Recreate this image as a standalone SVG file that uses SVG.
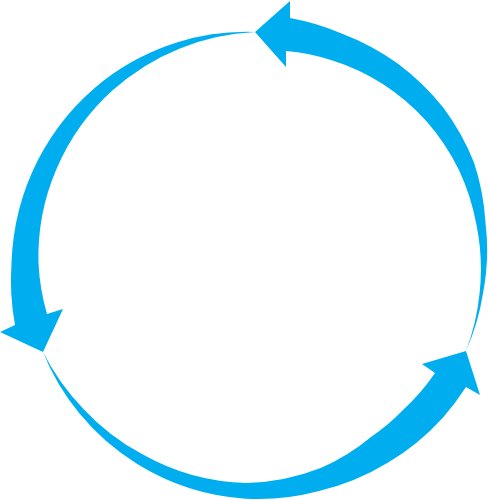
<svg xmlns="http://www.w3.org/2000/svg" width="488" height="500" viewBox="0 0 488 500">
<style>
.arrow{fill:#00AEEF;stroke:none}
</style>
<rect width="488" height="500" fill="#ffffff"/>
<g id="cycle">
<g id="arrow-top">
<path class="arrow" d="M255,32 L290,1 L290,18 A245.7,245.7 0 0 1 341.6,33.4 A243.9,243.9 0 0 1 397.7,63.5 A242.6,242.6 0 0 1 443.2,107.6 A240,240 0 0 1 473.9,162.3 A234.6,234.6 0 0 1 485.5,222.9 A229,229 0 0 1 482.8,294.6 A226.2,226.2 0 0 1 466,351 A224.6,224.6 0 0 0 479.5,294.1 A222.7,222.7 0 0 0 476.4,224.5 A221.6,221.6 0 0 0 458.7,169.4 A220.8,220.8 0 0 0 426.7,121.4 A219.3,219.3 0 0 0 383.2,84.2 A217,217 0 0 0 331.8,60.2 A214.8,214.8 0 0 0 286,51 L286,67 Z"/>
</g>
<g id="arrow-left">
<path class="arrow" d="M43,352 L0,332 L15,325 A248.6,248.6 0 0 1 11.5,263 A244.7,244.7 0 0 1 37.8,160.3 A241,241 0 0 1 104.4,79.9 A237,237 0 0 1 177.6,42.2 A233,233 0 0 1 255,32 A229.7,229.7 0 0 0 179.9,48.4 A227,227 0 0 0 112.9,90.1 A224,224 0 0 0 56.5,169.1 A221,221 0 0 0 38.5,263 A218.3,218.3 0 0 0 47,314 L63,309 Z"/>
</g>
<g id="arrow-bottom">
<path class="arrow" d="M466,351 L480,395 L466,387 A241.6,241.6 0 0 1 442.6,417.9 A239.6,239.6 0 0 1 387.7,462.8 A237,237 0 0 1 319.1,491 A236,236 0 0 1 245.7,498.7 A235,235 0 0 1 137.2,464 A234,234 0 0 1 79.1,413.1 A233,233 0 0 1 43,352 A230,230 0 0 0 83.7,409.2 A225.5,225.5 0 0 0 142.9,454.6 A222,222 0 0 0 246.5,483.1 A217.5,217.5 0 0 0 320.7,468.1 A211,211 0 0 0 371,437 A207,207 0 0 0 404,409 A207.5,207.5 0 0 0 435,373 L422,364 Z"/>
</g>
</g>
</svg>
